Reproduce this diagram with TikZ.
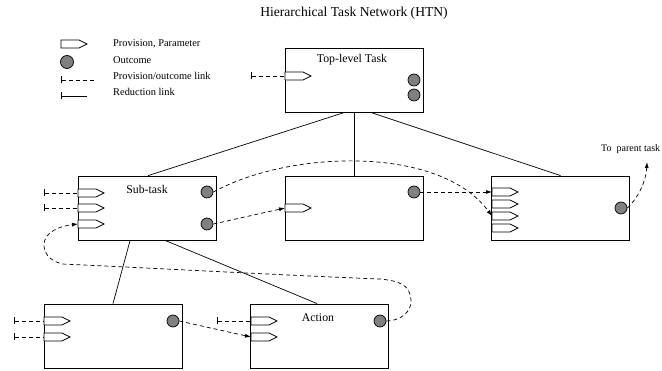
\documentclass[tikz,border=0pt]{standalone}
\usepackage{fontspec}
\setmainfont{Liberation Serif}
\usetikzlibrary{arrows.meta,calc}
\definecolor{outg}{RGB}{128,128,128}
\begin{document}
\begin{tikzpicture}[x=1pt,y=-1pt,
  box/.style={draw,line width=0.8pt,minimum width=138pt,minimum height=64pt,inner sep=0pt,fill=white},
  outc/.style={circle,draw,line width=0.7pt,fill=outg,minimum size=12pt,inner sep=0pt},
  lbl/.style={font=\fontsize{11.8}{13}\selectfont,inner sep=0pt},
  leg/.style={font=\fontsize{10.4}{12}\selectfont,inner sep=0pt,anchor=west,text height=0.68em,text depth=0.2em},
  plink/.style={draw,line width=0.7pt,dash pattern=on 4pt off 3pt,-{Latex[length=6pt,width=4pt]}},
  stub/.style={draw,line width=0.7pt,dash pattern=on 4pt off 3pt,{Bar[width=7pt,line width=0.7pt]}-},
  redl/.style={draw,line width=0.7pt},
  prov/.pic={\draw[line width=0.7pt,fill=white] (0,-4) -- (18,-4) -- (26,0) -- (18,4) -- (0,4) -- cycle;}
]
\useasboundingbox (0,0) rectangle (662,371);

% title
\node[font=\fontsize{13.6}{15}\selectfont,inner sep=0pt] (title) at (354,13) {Hierarchical Task Network (HTN)};

% legend
\coordinate (lp) at (61,44);
\pic at (lp) {prov};
\node[outc,minimum size=13pt] (lc) at (67,62) {};
\coordinate (ld1) at (61,80);
\coordinate (ld2) at (96,80);
\draw[stub] (ld1) -- (ld2);
\coordinate (lr1) at (61,96);
\coordinate (lr2) at (87,96);
\draw[line width=0.7pt,{Bar[width=7pt,line width=0.7pt]}-] (lr1) -- (lr2);
\node[leg] (lt1) at (113,44) {Provision, Parameter};
\node[leg] (lt2) at (113,61) {Outcome};
\node[leg] (lt3) at (113,77) {Provision/outcome link};
\node[leg] (lt4) at (113,93) {Reduction link};

% boxes
\node[box] (top) at (354,80) {};
\node[box] (sub) at (147.5,208) {};
\node[box] (mid) at (354,208) {};
\node[box] (rgt) at (560.5,208) {};
\node[box] (bl) at (113,336) {};
\node[box] (act) at (319.5,336) {};

% reduction links
\draw[redl] ($(top.south west)+(60,0)$) -- ($(sub.north west)+(70,0)$);
\draw[redl] (top.south) -- (mid.north);
\draw[redl] ($(top.south west)+(86,0)$) -- (rgt.north);
\draw[redl] ($(sub.south west)+(52,0)$) -- (bl.north);
\draw[redl] ($(sub.south west)+(87,0)$) -- ($(act.north west)+(67,0)$);

% labels
\node[lbl] (toplbl) at (352,60) {Top-level Task};
\node[lbl] (sublbl) at (147,189) {Sub-task};
\node[lbl] (actlbl) at (318,318) {Action};

% provisions
\coordinate (tp) at (285,76);
\coordinate (sp1) at (78,193);
\coordinate (sp2) at (78,208);
\coordinate (sp3) at (78,224);
\coordinate (mp) at (285,208);
\coordinate (rp1) at (492,192);
\coordinate (rp2) at (492,204);
\coordinate (rp3) at (492,216);
\coordinate (rp4) at (492,228);
\coordinate (bp1) at (44,321);
\coordinate (bp2) at (44,337);
\coordinate (ap1) at (251,321);
\coordinate (ap2) at (251,337);
\foreach \p in {tp,sp1,sp2,sp3,mp,rp1,rp2,rp3,rp4,bp1,bp2,ap1,ap2} {\pic at (\p) {prov};}

% outcomes
\node[outc] (to1) at (414,80) {};
\node[outc] (to2) at (414,95) {};
\node[outc] (sc1) at (207,192) {};
\node[outc] (sc2) at (207,224) {};
\node[outc] (mc) at (414,192) {};
\node[outc] (rc) at (621,208) {};
\node[outc] (bc) at (173,321) {};
\node[outc] (ac) at (380,321) {};

% free ends of stubs
\coordinate (tpx) at (251,76);
\coordinate (sp1x) at (44,193);
\coordinate (sp2x) at (44,208);
\coordinate (bp1x) at (14,321);
\coordinate (bp2x) at (14,337);
\coordinate (ap1x) at (217,321);
\draw[stub] (tpx) -- (tp);
\draw[stub] (sp1x) -- (sp1);
\draw[stub] (sp2x) -- (sp2);
\draw[stub] (bp1x) -- (bp1);
\draw[stub] (bp2x) -- (bp2);
\draw[stub] (ap1x) -- (ap1);

% provision/outcome links
\draw[plink] (sc1.east) .. controls (290,150) and (440,145) .. (rp3);
\draw[plink] (sc2.east) -- (mp);
\draw[plink] (mc.east) -- (rp1);
\draw[plink] (bc.east) -- (ap2);
\draw[plink] (ac.east) .. controls (400,321) and (412,312) .. (411,300)
   .. controls (410,285) and (400,281) .. (380,279)
   .. controls (300,276) and (150,268) .. (62,264)
   .. controls (48,260) and (44,252) .. (44,245)
   .. controls (44,232) and (60,226) .. (sp3);
\coordinate (par) at (647,162);
\draw[plink] (rc.east) .. controls (638,198) and (646,182) .. (par);
\node[font=\fontsize{10}{12}\selectfont,inner sep=0pt,anchor=west] (partxt) at (601,149) {To\ \ parent task};
\end{tikzpicture}
\end{document}
